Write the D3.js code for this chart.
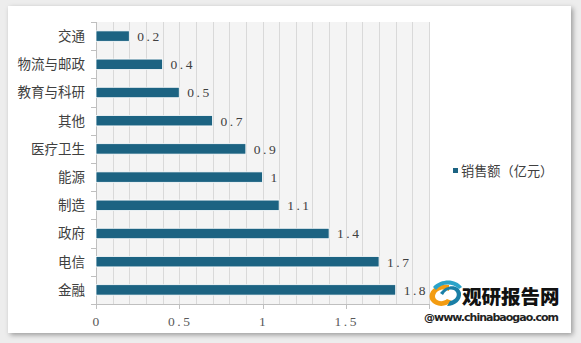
<!DOCTYPE html>
<html><head><meta charset="utf-8">
<script src="https://cdn.jsdelivr.net/npm/d3@7/dist/d3.min.js"></script>
<style>
html,body{margin:0;padding:0;background:#ededed;width:581px;height:343px;overflow:hidden;}
#card{position:absolute;left:8px;top:6px;width:563px;height:327px;background:#fff;box-shadow:2px 2px 5px rgba(0,0,0,0.35);}
svg{position:absolute;left:0;top:0;}
</style></head><body>
<div id="card"></div>
<svg id="chart" width="581" height="343"></svg>
<script>
const categories = ["交通","物流与邮政","教育与科研","其他","医疗卫生","能源","制造","政府","电信","金融"];
const values = [0.2,0.4,0.5,0.7,0.9,1,1.1,1.4,1.7,1.8];
const xTicks = [0,0.5,1,1.5,2];
const xTickLabels = ["0","0.5","1","1.5"]; // label at 2 hidden behind watermark
const seriesName = "销售额（亿元）";

(function(){
const svg = d3.select("#chart");
const pL = 96, pR = 429, pT = 22, pB = 304;
const barColor = "#1c6382";
const x = d3.scaleLinear().domain([0,2]).range([pL,pR]);
const y = d3.scaleBand().domain(categories).range([pT,pB]).paddingInner(0.63).paddingOuter(0.315);

svg.append("rect").attr("x",pL).attr("y",pT).attr("width",pR-pL).attr("height",pB-pT).attr("fill","#f4f4f4");
const grid = d3.range(1,21).map(i=>i/10);
svg.append("g").selectAll("line").data(grid).join("line")
  .attr("x1",d=>Math.round(x(d))+0.5).attr("x2",d=>Math.round(x(d))+0.5)
  .attr("y1",pT).attr("y2",pB).attr("stroke","#d9d9d9").attr("stroke-width",1);

const axisColor = "#bfbfbf";
const bounds = d3.range(0,categories.length+1).map(i=>pT + i*(pB-pT)/categories.length);
svg.append("line").attr("x1",pL+0.5).attr("x2",pL+0.5).attr("y1",pT).attr("y2",pB).attr("stroke",axisColor);
svg.append("g").selectAll("line").data(bounds).join("line")
  .attr("x1",pL-5).attr("x2",pL).attr("y1",d=>Math.round(d)+0.5).attr("y2",d=>Math.round(d)+0.5).attr("stroke",axisColor);
svg.append("line").attr("x1",pL).attr("x2",pR).attr("y1",pB+0.5).attr("y2",pB+0.5).attr("stroke",axisColor);
svg.append("g").selectAll("line").data(xTicks).join("line")
  .attr("x1",d=>Math.round(x(d))+0.5).attr("x2",d=>Math.round(x(d))+0.5).attr("y1",pB).attr("y2",pB+5).attr("stroke",axisColor);

svg.append("g").selectAll("text").data(xTickLabels).join("text")
  .attr("x",(d,i)=>x(xTicks[i])+1).attr("y",326).attr("text-anchor","middle")
  .attr("font-family","Liberation Serif, serif").attr("font-size",13.5).attr("letter-spacing","2.5px")
  .attr("fill","#595959").text(d=>d);

svg.append("g").selectAll("text").data(categories).join("text")
  .attr("x",85).attr("y",d=>y(d)+y.bandwidth()/2).attr("dy","0.36em").attr("text-anchor","end")
  .attr("font-family","Noto Sans CJK SC, sans-serif").attr("font-size",13.5)
  .attr("fill","#404040").text(d=>d);

svg.append("g").selectAll("rect").data(categories).join("rect")
  .attr("x",x(0)).attr("y",(d)=>y(d)).attr("width",(d,i)=>x(values[i])-x(0)).attr("height",y.bandwidth())
  .attr("fill",barColor).attr("stroke","#ffffff").attr("stroke-width",0.8);

svg.append("g").selectAll("text").data(categories).join("text")
  .attr("x",(d,i)=>x(values[i])+8).attr("y",d=>y(d)+y.bandwidth()/2).attr("dy","0.36em")
  .attr("font-family","Liberation Serif, serif").attr("font-size",13.5).attr("letter-spacing","2.5px")
  .attr("fill","#404040").text((d,i)=>String(values[i]));

svg.append("rect").attr("x",453).attr("y",168).attr("width",5).attr("height",5).attr("fill",barColor);
svg.append("text").attr("x",461).attr("y",171).attr("dy","0.36em")
  .attr("font-family","Noto Sans CJK SC, sans-serif").attr("font-size",13.2).attr("fill","#404040").text(seriesName);

const lg = svg.append("g");
lg.append("path").attr("d","M449,285 C435,283 426,293 431,301 C435,307 446,308 452,301 L447,299 C442,303 435,301 435,296 C436,290 443,288 449,291 Z").attr("fill","#f39c12");
lg.append("path").attr("d","M440,293 C448,283 459,285 461,293 C462,300 455,306 447,306 L450,301 C456,300 458,295 456,292 C453,288 446,289 443,295 Z").attr("fill","#1a7fa6");
lg.append("path").attr("d","M433,287 C442,278 456,279 462,287 L459,289 C452,283 442,283 436,290 Z").attr("fill","#2ba3c9");
lg.append("text").attr("x",462).attr("y",304).attr("font-family","Noto Sans CJK SC, sans-serif").attr("font-weight","900")
  .attr("font-size",19.5).attr("fill","#111").text("观研报告网");
lg.append("text").attr("x",424).attr("y",321).attr("font-family","DejaVu Sans, sans-serif").attr("font-weight","bold")
  .attr("font-size",11).attr("fill","#222").attr("textLength",135).text("@www.chinabaogao.com");
})();
</script>
</body></html>
